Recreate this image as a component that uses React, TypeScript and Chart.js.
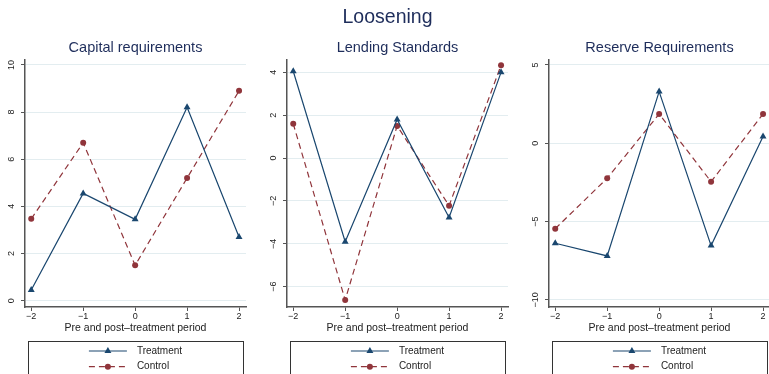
import React, { useEffect, useRef } from "react";
import { Chart, registerables } from "chart.js";

Chart.register(...registerables);

// ---- data ----
const periods = [-2, -1, 0, 1, 2];
const xTicks = [-2, -1, 0, 1, 2];

const capitalTreatment = [0.45, 4.55, 3.45, 8.2, 2.7];
const capitalControl = [3.47, 6.7, 1.5, 5.2, 8.9];
const capitalTicks = [0, 2, 4, 6, 8, 10];

const lendingTreatment = [4.05, -3.9, 1.8, -2.77, 4.0];
const lendingControl = [1.6, -6.62, 1.5, -2.22, 4.33];
const lendingTicks = [-6, -4, -2, 0, 2, 4];

const reserveTreatment = [-6.38, -7.19, 3.3, -6.53, 0.43];
const reserveControl = [-5.45, -2.23, 1.87, -2.45, 1.87];
const reserveTicks = [-10, -5, 0, 5];

const seriesNames = ["Treatment", "Control"];
const mainTitle = "Loosening";
const xTitle = "Pre and post\u2013treatment period";

// ---- styles ----
const FONT = "'Liberation Sans', Arial, sans-serif";
const NAVY = "#1a476f";
const MAROON = "#90353b";
const TITLE_COLOR = "#1e2d5b";
const TEXT = "#222222";
const AXIS = "#555555";
const GRID = "#e3edf0";

const fmt = (v: number) => (v < 0 ? "\u2212" + Math.abs(v) : String(v));

type Panel = {
  title: string;
  treatment: number[];
  control: number[];
  yTicks: number[];
  yMin: number;
  yMax: number;
};

const panels: Panel[] = [
  { title: "Capital requirements", treatment: capitalTreatment, control: capitalControl, yTicks: capitalTicks, yMin: -0.27, yMax: 10.23 },
  { title: "Lending Standards", treatment: lendingTreatment, control: lendingControl, yTicks: lendingTicks, yMin: -6.95, yMax: 4.6 },
  { title: "Reserve Requirements", treatment: reserveTreatment, control: reserveControl, yTicks: reserveTicks, yMin: -10.45, yMax: 5.35 },
];

const yLabelPlugin = {
  id: "yLabels",
  afterDraw(chart: any) {
    const { ctx, chartArea } = chart;
    const ys = chart.scales.y;
    ctx.save();
    ctx.fillStyle = TEXT;
    ctx.font = `9px ${FONT}`;
    ctx.textAlign = "center";
    ctx.textBaseline = "middle";
    for (const t of ys.ticks) {
      const py = ys.getPixelForValue(t.value);
      ctx.save();
      ctx.translate(chartArea.left - 13, py);
      ctx.rotate(-Math.PI / 2);
      ctx.fillText(fmt(t.value), 0, 0);
      ctx.restore();
    }
    ctx.restore();
  },
};

const boxLegendPlugin = {
  id: "boxLegend",
  afterDraw(chart: any) {
    const { ctx, chartArea } = chart;
    const top = chart.scales.x.bottom + 4;
    const left = chartArea.left + 3;
    const right = chartArea.right - 3;
    ctx.save();
    ctx.strokeStyle = "#333333";
    ctx.lineWidth = 1;
    ctx.strokeRect(Math.round(left) + 0.5, Math.round(top) + 0.5, right - left, chart.height - top + 10);

    ctx.font = `10px ${FONT}`;
    const ds = chart.data.datasets;
    const sampleW = 38;
    const gap = 10;
    let maxText = 0;
    for (const d of ds) maxText = Math.max(maxText, ctx.measureText(d.label).width);
    const blockW = sampleW + gap + maxText;
    const cx = (chartArea.left + chartArea.right) / 2;
    const x0 = cx - blockW / 2;
    const rowY = [top + 10, top + 25.7];
    ds.forEach((d: any, i: number) => {
      const y = rowY[i];
      ctx.save();
      ctx.strokeStyle = d.borderColor;
      ctx.lineWidth = d.borderWidth;
      ctx.setLineDash(d.borderDash || []);
      ctx.beginPath();
      ctx.moveTo(x0, y);
      ctx.lineTo(x0 + sampleW, y);
      ctx.stroke();
      ctx.setLineDash([]);
      ctx.fillStyle = d.pointBackgroundColor;
      const mx = x0 + sampleW / 2;
      const r = d.pointRadius;
      ctx.beginPath();
      if (d.pointStyle === "triangle") {
        let rad = 0;
        ctx.moveTo(mx + Math.sin(rad) * r, y - Math.cos(rad) * r);
        rad += (2 * Math.PI) / 3;
        ctx.lineTo(mx + Math.sin(rad) * r, y - Math.cos(rad) * r);
        rad += (2 * Math.PI) / 3;
        ctx.lineTo(mx + Math.sin(rad) * r, y - Math.cos(rad) * r);
        ctx.closePath();
      } else {
        ctx.arc(mx, y, r, 0, Math.PI * 2);
      }
      ctx.fill();
      ctx.restore();
      ctx.fillStyle = TEXT;
      ctx.textAlign = "left";
      ctx.textBaseline = "middle";
      ctx.fillText(d.label, x0 + sampleW + gap, y);
    });
    ctx.restore();
  },
};

function PanelChart({ panel, left }: { panel: Panel; left: number }) {
  const ref = useRef<HTMLCanvasElement | null>(null);
  useEffect(() => {
    if (!ref.current) return;
    const toPts = (arr: number[]) => periods.map((x, i) => ({ x, y: arr[i] }));
    const chart = new Chart(ref.current, {
      type: "line",
      data: {
        datasets: [
          {
            label: seriesNames[0],
            data: toPts(panel.treatment),
            borderColor: NAVY,
            backgroundColor: NAVY,
            pointBackgroundColor: NAVY,
            pointBorderColor: NAVY,
            borderWidth: 1.2,
            pointStyle: "triangle",
            pointRadius: 4,
            pointBorderWidth: 0,
            tension: 0,
            fill: false,
          },
          {
            label: seriesNames[1],
            data: toPts(panel.control),
            borderColor: MAROON,
            backgroundColor: MAROON,
            pointBackgroundColor: MAROON,
            pointBorderColor: MAROON,
            borderWidth: 1.2,
            borderDash: [6, 4],
            pointStyle: "circle",
            pointRadius: 3,
            pointBorderWidth: 0,
            tension: 0,
            fill: false,
          },
        ] as any,
      },
      options: {
        animation: false,
        responsive: false,
        events: [],
        layout: { padding: { left: 0, right: 16, top: 0, bottom: 37 } },
        plugins: {
          legend: { display: false },
          tooltip: { enabled: false },
          title: {
            display: true,
            text: panel.title,
            fullSize: false,
            color: TITLE_COLOR,
            font: { family: FONT, size: 14.5, weight: "normal" },
            padding: { top: 38.8, bottom: 3.3 },
          },
        },
        scales: {
          x: {
            type: "linear",
            min: -2.12,
            max: 2.134,
            afterBuildTicks: (s: any) => {
              s.ticks = xTicks.map((v) => ({ value: v }));
            },
            afterFit: (s: any) => {
              s.height = 30;
            },
            grid: { drawOnChartArea: false, drawTicks: true, tickLength: 4, tickColor: AXIS, tickWidth: 1 },
            border: { display: true, color: AXIS, width: 1.5 },
            ticks: {
              padding: 0,
              autoSkip: false,
              maxRotation: 0,
              minRotation: 0,
              color: TEXT,
              font: { family: FONT, size: 9 },
              callback: (v: any) => fmt(Number(v)),
            },
            title: {
              display: true,
              text: xTitle,
              color: TEXT,
              font: { family: FONT, size: 10.5 },
              padding: { top: 0, bottom: 2.4 },
            },
          },
          y: {
            type: "linear",
            min: panel.yMin,
            max: panel.yMax,
            afterBuildTicks: (s: any) => {
              s.ticks = panel.yTicks.map((v) => ({ value: v }));
            },
            afterFit: (s: any) => {
              s.width = 25;
            },
            grid: { color: GRID, lineWidth: 1, drawTicks: true, tickLength: 4, tickColor: AXIS, tickWidth: 1 },
            border: { display: true, color: AXIS, width: 1.5 },
            ticks: { display: false },
          },
        },
      } as any,
      plugins: [yLabelPlugin, boxLegendPlugin],
    });
    return () => chart.destroy();
  }, [panel]);
  return (
    <canvas
      ref={ref}
      width={262}
      height={374}
      style={{ position: "absolute", left, top: 0, width: 262, height: 374, display: "block" }}
    />
  );
}

export default function App() {
  return (
    <div
      style={{
        position: "fixed",
        left: 0,
        top: 0,
        width: 769,
        height: 374,
        overflow: "hidden",
        background: "#ffffff",
      }}
    >
      {panels.map((p, i) => (
        <PanelChart key={p.title} panel={p} left={i * 262} />
      ))}
      <div
        style={{
          position: "absolute",
          left: 287.5,
          top: 3.5,
          width: 200,
          textAlign: "center",
          fontFamily: FONT,
          fontSize: 19.5,
          lineHeight: "24px",
          color: TITLE_COLOR,
        }}
      >
        {mainTitle}
      </div>
    </div>
  );
}
